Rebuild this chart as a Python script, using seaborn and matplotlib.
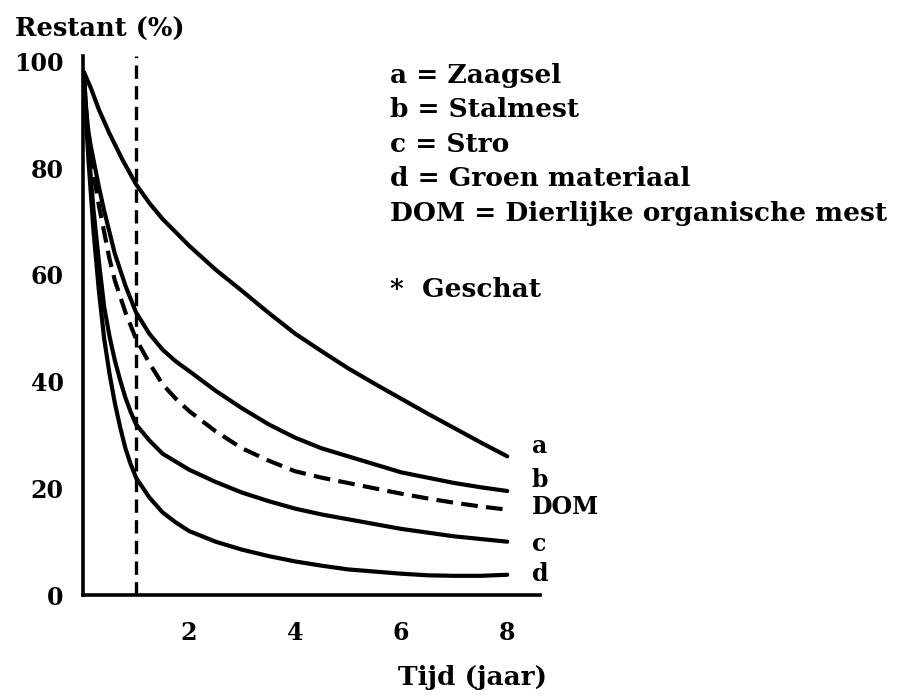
import numpy as np
import pandas as pd
import matplotlib
matplotlib.use("Agg")
import matplotlib.pyplot as plt
import seaborn as sns

# waarden (tijd in jaar, restant in %)
t_a = [0.02, 0.15, 0.3, 0.5, 0.75, 1.0, 1.25, 1.5, 2.0, 2.5, 3.0, 3.5, 4.0,
       4.5, 5.0, 5.5, 6.0, 6.5, 7.0, 7.5, 8.0]
zaagsel = [98, 95, 91, 86.5, 81.5, 77, 73.5, 70.5, 65.5, 61, 57, 52.9, 49,
           45.7, 42.5, 39.6, 36.8, 34, 31.3, 28.6, 26]

t_low = [0.02, 0.06, 0.1, 0.15, 0.2, 0.3, 0.4, 0.5, 0.6, 0.7, 0.8, 0.9, 1.0,
         1.25, 1.5, 1.75, 2.0, 2.5, 3.0, 3.5, 4.0, 4.5, 5.0, 5.5, 6.0, 6.5,
         7.0, 7.5, 8.0]
stalmest = [97, 91, 87, 84, 81.5, 76.5, 72, 68, 64, 61, 58, 55.5, 53,
            49, 46, 43.8, 42, 38.3, 35, 32, 29.5, 27.5, 26, 24.5, 23, 22,
            21, 20.2, 19.5]
dom = [97, 91, 86, 82, 79, 73, 68, 63, 59, 56, 53, 50.5, 48,
       43.5, 39.5, 36.8, 34.5, 30.7, 27.5, 25.2, 23.2, 22, 21, 20, 19, 18.1,
       17.3, 16.6, 16]
stro = [97, 90, 84, 78, 72, 62.5, 54, 48.5, 44, 40.3, 37, 34.3, 32,
        29, 26.5, 25, 23.5, 21.2, 19.2, 17.6, 16.2, 15.1, 14.2, 13.3, 12.4, 11.7,
        11, 10.5, 10]
groen = [97, 89, 82, 75, 68, 57, 48, 41.5, 36, 31.5, 27.5, 24.5, 22,
         18.3, 15.5, 13.6, 12, 10, 8.5, 7.3, 6.3, 5.5, 4.8, 4.4, 4, 3.7,
         3.6, 3.6, 3.8]

curve_labels = ["a", "b", "DOM", "c", "d"]
legend_lines = ["a = Zaagsel", "b = Stalmest", "c = Stro", "d = Groen materiaal",
                "DOM = Dierlijke organische mest"]
x_ticks = [2, 4, 6, 8]
y_ticks = [0, 20, 40, 60, 80, 100]
t_schatting = 1.0

sns.set_style("white")
plt.rcParams['font.family'] = ['DejaVu Serif']
plt.rcParams['font.weight'] = 'bold'
plt.rcParams['text.color'] = 'black'
plt.rcParams['xtick.color'] = 'black'
plt.rcParams['ytick.color'] = 'black'

fig = plt.figure(figsize=(9.07, 6.97), dpi=100)
ax = fig.add_axes([0.0915, 0.1463, 0.504, 0.773])

series = [(t_a, zaagsel, "-"), (t_low, stalmest, "-"), (t_low, dom, (0, (4, 2))),
          (t_low, stro, "-"), (t_low, groen, "-")]
for xs, ys, ls in series:
    sns.lineplot(x=xs, y=ys, ax=ax, color="black", linewidth=3, linestyle=ls,
                 estimator=None, sort=False)

ax.plot([t_schatting, t_schatting], [0, 101], color="black", linewidth=2.4,
        linestyle=(0, (4, 2.2)))

ax.set_xlim(0, 8.62)
ax.set_ylim(0, 101)
ax.set_xticks(x_ticks)
ax.set_yticks(y_ticks)
ax.set_xticklabels([str(v) for v in x_ticks], fontsize=17, fontweight="bold")
ax.set_yticklabels([str(v) for v in y_ticks], fontsize=17, fontweight="bold")
ax.tick_params(axis="x", direction="in", length=4, width=2, pad=19)
ax.tick_params(axis="y", direction="out", length=4, width=2, pad=10)
for side in ["top", "right"]:
    ax.spines[side].set_visible(False)
for side in ["left", "bottom"]:
    ax.spines[side].set_linewidth(2.6)
    ax.spines[side].set_color("black")

# labels aan het eind van de curves
label_y = [28, 21.5, 16.5, 9.5, 4]
for lab, yv in zip(curve_labels, label_y):
    ax.text(8.46, yv, lab, fontsize=17, fontweight="bold", va="center", ha="left")

fig.text(0.016, 0.958, "Restant (%)", fontsize=18.5, fontweight="bold", va="center", ha="left")
fig.text(0.603, 0.028, "Tijd (jaar)", fontsize=19, fontweight="bold", va="center", ha="right")

for i, line in enumerate(legend_lines):
    fig.text(0.43, 0.892 - i * 0.0495, line, fontsize=19, fontweight="bold",
             va="center", ha="left")
fig.text(0.43, 0.584, "*  Geschat", fontsize=19, fontweight="bold", va="center", ha="left")

fig.savefig("out.png", dpi=100, facecolor="white")
